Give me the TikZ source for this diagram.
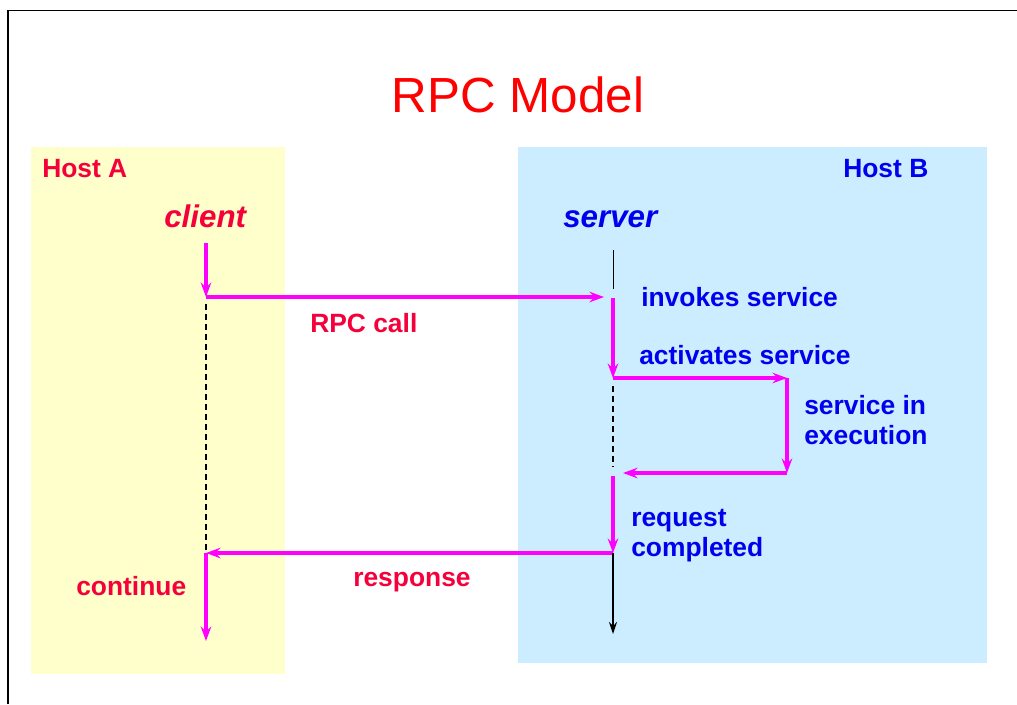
\documentclass[tikz,border=0pt]{standalone}
\usepackage{fontspec}
\setmainfont{Liberation Sans}
\usetikzlibrary{positioning,arrows.meta}
\definecolor{hostAbg}{HTML}{FFFFCC}
\definecolor{hostBbg}{HTML}{CCECFF}
\definecolor{hostred}{HTML}{F5003A}
\definecolor{hostblue}{HTML}{0000EE}
\definecolor{callpink}{HTML}{FF00FF}

\begin{document}
\begin{tikzpicture}[x=0.75pt, y=-0.75pt, font=\fontsize{19.8}{24}\selectfont\bfseries,
  msg/.style={callpink, line width=2.4pt, -{Stealth[length=11pt,width=8pt,inset=4pt]}},
  life/.style={black, line width=0.9pt, -{Stealth[length=9pt,width=6pt,inset=3pt]}},
  idle/.style={black, line width=0.8pt, dash pattern=on 4.5pt off 3pt},
  lbl/.style={anchor=base west, inner sep=0pt}]
  \useasboundingbox (0,0) rectangle (1017,704);
  \draw[line width=1pt] (8,704) -- (8,10.5) -- (1017,10.5);
  % host areas
  \fill[hostAbg] (31,147) rectangle (285,674);
  \fill[hostBbg] (518,147) rectangle (987,663);
  \node[red, anchor=base, inner sep=0pt] (title) at (518,112)
    {\fontsize{37}{40}\selectfont\mdseries RPC Model};
  \node[lbl, hostred]  (hostA) at (42,177) {Host A};
  \node[lbl, hostblue] (hostB) at (843,177) {Host B};
  \node[lbl, hostred, font=\fontsize{23.5}{28}\selectfont\bfseries\itshape] (client) at (164,227) {client};
  \node[lbl, hostblue, font=\fontsize{23.5}{28}\selectfont\bfseries\itshape] (server) at (563,227) {server};
  % lifeline points
  \coordinate (c1) at (206,243);
  \coordinate (c2) at (206,297);
  \coordinate (c3) at (206,553);
  \coordinate (c4) at (206,641);
  \coordinate (s0) at (613,250);
  \coordinate (s1) at (613,289);
  \coordinate (s2) at (613,298);
  \coordinate (s3) at (613,378);
  \coordinate (x1) at (787,378);
  \coordinate (x2) at (787,473);
  \coordinate (s4) at (623,473);
  \coordinate (s5) at (613,476);
  \coordinate (s6) at (613,553);
  \coordinate (s7) at (613,634);
  % client side
  \draw[msg] (c1) -- (c2);
  \draw[msg] (c2) -- (604,297);
  \draw[idle] (206,304) -- (c3);
  \draw[msg] (s6) -- (c3);
  \draw[msg] (c3) -- (c4);
  % server side
  \draw[black, line width=0.7pt] (s0) -- (s1);
  \draw[msg] (s2) -- (s3);
  \draw[msg] (s3) -- (x1);
  \draw[msg] (x1) -- (x2);
  \draw[msg] (x2) -- (s4);
  \draw[idle] (613,386) -- (613,467);
  \draw[msg] (s5) -- (s6);
  \draw[life] (s6) -- (s7);
  % labels
  \node[lbl, hostred]  (call)     at (310,332) {RPC call};
  \node[lbl, hostblue] (invoke)   at (641,306) {invokes service};
  \node[lbl, hostblue] (activate) at (639,364) {activates service};
  \node[lbl, hostblue, align=left] (exec) at (804,444) {service in\\[-1.6pt]execution};
  \node[lbl, hostblue, align=left] (done) at (631,556) {request\\[-1.6pt]completed};
  \node[lbl, hostred]  (resp)     at (353,586) {response};
  \node[lbl, hostred]  (cont)     at (76,595)  {continue};
\end{tikzpicture}
\end{document}
